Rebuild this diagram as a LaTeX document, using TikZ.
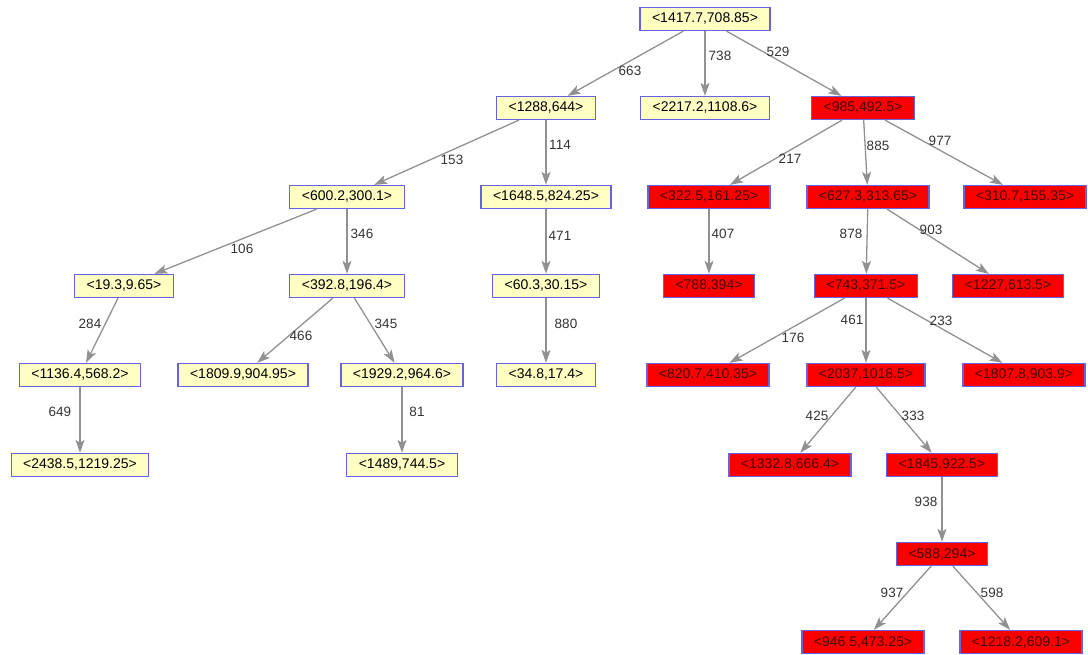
\documentclass[tikz,border=0pt]{standalone}
\usepackage{fontspec}
\setmainfont{Liberation Sans}
\usetikzlibrary{arrows.meta}
\definecolor{keepfill}{RGB}{255,255,196}
\definecolor{boxline}{RGB}{100,100,225}
\definecolor{dropfill}{RGB}{250,0,0}
\definecolor{edgegray}{RGB}{145,145,145}
\begin{document}
\begin{tikzpicture}[x=1pt,y=-1pt,
  every node/.style={font=\fontsize{14}{16}\selectfont},
  keep/.style={draw=boxline,line width=1.3pt,fill=keepfill,inner xsep=12pt,inner ysep=0pt,minimum height=23pt},
  drop/.style={keep,fill=dropfill,text=black!70!red},
  edge/.style={draw=edgegray,line width=1.3pt,-{Stealth[length=13pt,width=9pt,inset=3pt]}},
  wt/.style={font=\fontsize{13.5}{15}\selectfont,text=black!80,inner sep=0pt}]
\useasboundingbox (0,0) rectangle (1088,654);
% boxes
\node[keep] (root) at (705,19) {<1417.7,708.85>};
\node[keep] (n1288) at (546,108) {<1288,644>};
\node[keep] (n2217) at (705,108) {<2217.2,1108.6>};
\node[drop] (n985) at (863,108) {<985,492.5>};
\node[keep] (n600) at (347,197) {<600.2,300.1>};
\node[keep] (n1648) at (546,197) {<1648.5,824.25>};
\node[drop] (n322) at (709,197) {<322.5,161.25>};
\node[drop] (n627) at (868,197) {<627.3,313.65>};
\node[drop] (n310) at (1025,197) {<310.7,155.35>};
\node[keep] (n19) at (124,286) {<19.3,9.65>};
\node[keep] (n392) at (347,286) {<392.8,196.4>};
\node[keep] (n60) at (546,286) {<60.3,30.15>};
\node[drop] (n788) at (709,286) {<788,394>};
\node[drop] (n743) at (866,286) {<743,371.5>};
\node[drop] (n1227) at (1008,286) {<1227,613.5>};
\node[keep] (n1136) at (80,375) {<1136.4,568.2>};
\node[keep] (n1809) at (243,375) {<1809.9,904.95>};
\node[keep] (n1929) at (402,375) {<1929.2,964.6>};
\node[keep] (n34) at (546,375) {<34.8,17.4>};
\node[drop] (n820) at (708,375) {<820.7,410.35>};
\node[drop] (n2037) at (866,375) {<2037,1018.5>};
\node[drop] (n1807) at (1024,375) {<1807.8,903.9>};
\node[keep] (n2438) at (80,465) {<2438.5,1219.25>};
\node[keep] (n1489) at (402,465) {<1489,744.5>};
\node[drop] (n1332) at (790,465) {<1332.8,666.4>};
\node[drop] (n1845) at (942,465) {<1845,922.5>};
\node[drop] (n588) at (942,554) {<588,294>};
\node[drop] (n946) at (863,642) {<946.5,473.25>};
\node[drop] (n1218) at (1021,642) {<1218.2,609.1>};
% edges
\foreach \from/\to in {root/n1288,root/n2217,root/n985,n1288/n600,n1288/n1648,
  n985/n322,n985/n627,n985/n310,n600/n19,n600/n392,n1648/n60,n322/n788,
  n627/n743,n627/n1227,n19/n1136,n392/n1809,n392/n1929,n60/n34,
  n743/n820,n743/n2037,n743/n1807,n1136/n2438,n1929/n1489,
  n2037/n1332,n2037/n1845,n1845/n588,n588/n946,n588/n1218}
  \draw[edge] (\from) -- (\to);
% weights
\node[wt] (w663) at (630,71) {663};
\node[wt] (w738) at (720,56) {738};
\node[wt] (w529) at (778,52) {529};
\node[wt] (w153) at (452,160) {153};
\node[wt] (w114) at (560,145) {114};
\node[wt] (w217) at (790,159) {217};
\node[wt] (w885) at (878,146) {885};
\node[wt] (w977) at (940,141) {977};
\node[wt] (w106) at (242,249) {106};
\node[wt] (w346) at (362,234) {346};
\node[wt] (w471) at (560,236) {471};
\node[wt] (w407) at (723,234) {407};
\node[wt] (w878) at (851,234) {878};
\node[wt] (w903) at (931,230) {903};
\node[wt] (w284) at (90,324) {284};
\node[wt] (w466) at (301,336) {466};
\node[wt] (w345) at (386,324) {345};
\node[wt] (w880) at (566,324) {880};
\node[wt] (w461) at (852,320) {461};
\node[wt] (w176) at (793,338) {176};
\node[wt] (w233) at (941,321) {233};
\node[wt] (w649) at (60,412) {649};
\node[wt] (w81) at (417,412) {81};
\node[wt] (w425) at (817,416) {425};
\node[wt] (w333) at (913,416) {333};
\node[wt] (w938) at (926,502) {938};
\node[wt] (w937) at (892,593) {937};
\node[wt] (w598) at (992,593) {598};
\end{tikzpicture}
\end{document}
